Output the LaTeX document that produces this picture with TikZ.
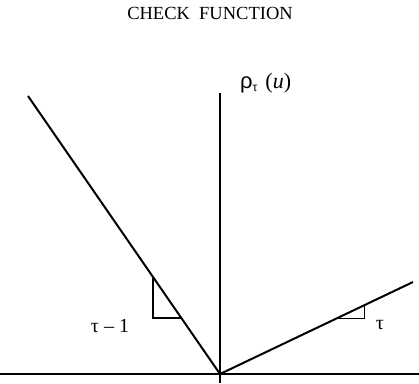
\documentclass[tikz,border=0pt]{standalone}
\usepackage{fontspec}
\setmainfont{Liberation Serif}
\newfontfamily\greekfont{Liberation Sans}
\begin{document}
\begin{tikzpicture}[x=1pt,y=-1pt,
  axisline/.style={line width=1.6pt},
  graphline/.style={line width=2pt},
  slopebox/.style={line width=1.6pt},
  lbl/.style={inner sep=0pt, font=\fontsize{20}{24}\selectfont}]
\useasboundingbox (0,0) rectangle (419,383);
% title
\node[lbl, font=\fontsize{18.5}{22}\selectfont] (title) at (210,13) {CHECK\ \ FUNCTION};
% axes
\coordinate (xl) at (0,374);
\coordinate (xr) at (419,374);
\coordinate (yt) at (220,93);
\coordinate (yb) at (220,383);
\coordinate (O) at (220,374);
\draw[axisline] (xl) -- (xr);
\draw[axisline] (yt) -- (yb);
% check function
\coordinate (L) at (28,96);
\coordinate (R) at (413,282);
\draw[graphline] (L) -- (O) -- (R);
% slope triangles
\coordinate (lt) at (153,278);
\coordinate (lc) at (153,318);
\coordinate (lr) at (181.5,318);
\draw[slopebox] (lt) -- (lc) -- (lr);
\coordinate (rl) at (336,318.5);
\coordinate (rc) at (364.5,318.5);
\coordinate (rt) at (364.5,305);
\draw[slopebox] (rl) -- (rc) -- (rt);
% labels
\node[lbl, anchor=west, font=\fontsize{22}{25}\selectfont] (rho) at (240,83) {{\greekfont ρ}\raisebox{-0.3ex}{\fontsize{12}{13}\selectfont\greekfont τ}\hspace{8pt}(\textit{u})};
\node[lbl] (tm1) at (110,326) {τ – 1};
\node[lbl] (tau) at (380,325) {τ};
\end{tikzpicture}
\end{document}
